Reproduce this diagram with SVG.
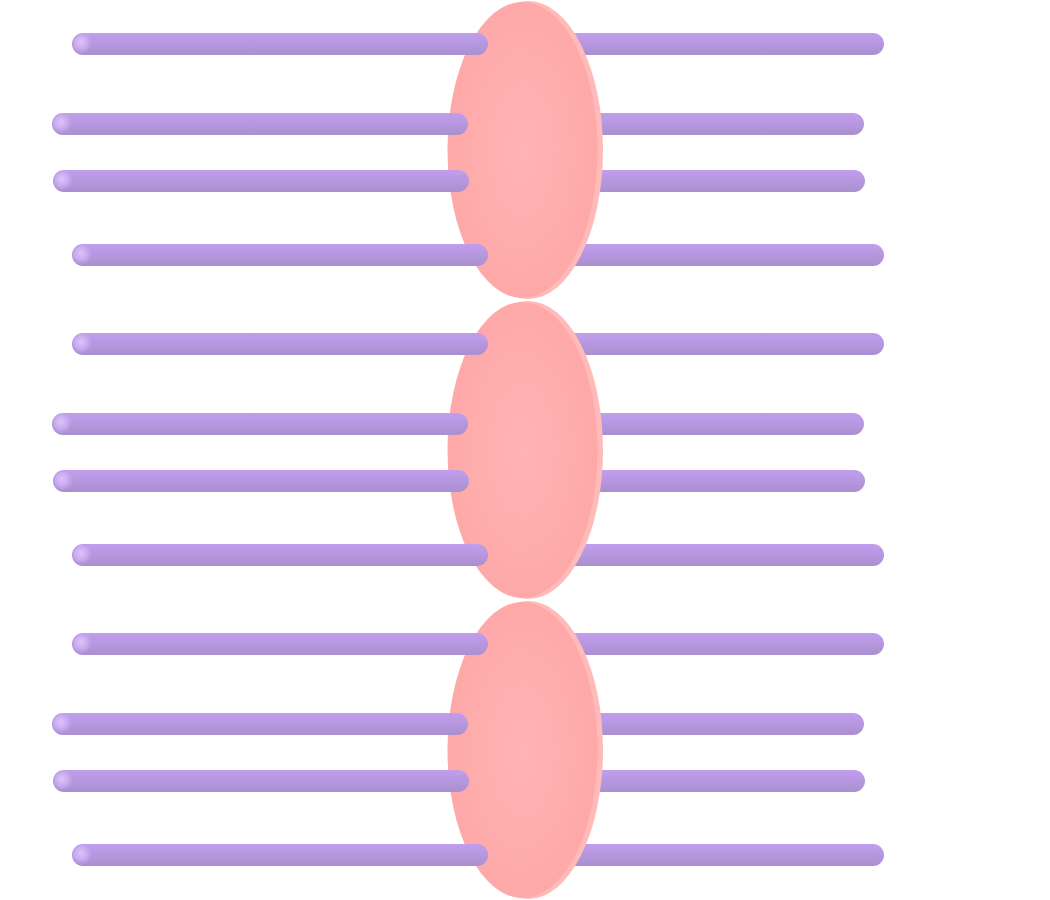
<svg xmlns="http://www.w3.org/2000/svg" width="1050" height="900" viewBox="0 0 1050 900">
<defs>
<linearGradient id="bar" x1="0" y1="0" x2="0" y2="1">
<stop offset="0" stop-color="#c19eee"/>
<stop offset="1" stop-color="#aa90cf"/>
</linearGradient>
<radialGradient id="cap" cx="0.4" cy="0.4" r="0.6">
<stop offset="0" stop-color="#dcc4f6"/>
<stop offset="0.6" stop-color="#c7a8ef"/>
<stop offset="1" stop-color="#bb9ce6" stop-opacity="0"/>
</radialGradient>
<radialGradient id="disc" cx="0.5" cy="0.5" r="0.55">
<stop offset="0" stop-color="#ffb4b4"/>
<stop offset="1" stop-color="#fea7a7"/>
</radialGradient>
<g id="bars">
<rect class="r" x="560" y="33" width="324" height="22" rx="11" fill="url(#bar)"/>
<rect class="r" x="560" y="113" width="304" height="22" rx="11" fill="url(#bar)"/>
<rect class="r" x="560" y="170" width="305" height="22" rx="11" fill="url(#bar)"/>
<rect class="r" x="560" y="244" width="324" height="22" rx="11" fill="url(#bar)"/>
</g>
<g id="disk">
<ellipse cx="528" cy="150" rx="75" ry="149" fill="#ffbaba"/>
<ellipse cx="522.5" cy="150" rx="75" ry="148" fill="url(#disc)"/>
</g>
<g id="lbars">
<rect x="72" y="33" width="416" height="22" rx="11" fill="url(#bar)"/>
<circle cx="83" cy="44" r="10" fill="url(#cap)"/>
<rect x="52" y="113" width="416" height="22" rx="11" fill="url(#bar)"/>
<circle cx="63" cy="124" r="10" fill="url(#cap)"/>
<rect x="53" y="170" width="416" height="22" rx="11" fill="url(#bar)"/>
<circle cx="64" cy="181" r="10" fill="url(#cap)"/>
<rect x="72" y="244" width="416" height="22" rx="11" fill="url(#bar)"/>
<circle cx="83" cy="255" r="10" fill="url(#cap)"/>
</g>
</defs>
<g id="unit1">
<use href="#bars"/><use href="#disk"/><use href="#lbars"/>
</g>
<g id="unit2" transform="translate(0,300)">
<use href="#bars"/><use href="#disk"/><use href="#lbars"/>
</g>
<g id="unit3" transform="translate(0,600)">
<use href="#bars"/><use href="#disk"/><use href="#lbars"/>
</g>
</svg>
